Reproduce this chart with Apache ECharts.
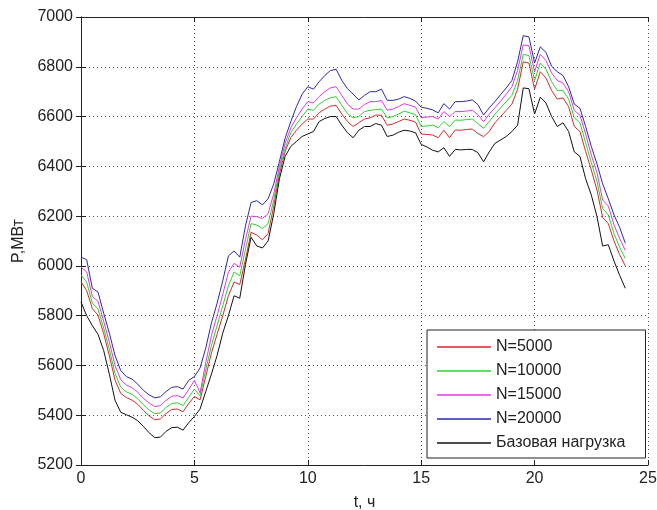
<!DOCTYPE html>
<html>
<head>
<meta charset="utf-8">
<script src="https://cdn.jsdelivr.net/npm/echarts@6/dist/echarts.min.js"></script>
<style>
html,body{margin:0;padding:0;background:#fff;}
#chart{width:657px;height:510px;}
</style>
</head>
<body>
<div id="chart"></div>
<script>
var hours = [0,0.25,0.5,0.75,1,1.25,1.5,1.75,2,2.25,2.5,2.75,3,3.25,3.5,3.75,4,4.25,4.5,4.75,5,5.25,5.5,5.75,6,6.25,6.5,6.75,7,7.25,7.5,7.75,8,8.25,8.5,8.75,9,9.25,9.5,9.75,10,10.25,10.5,10.75,11,11.25,11.5,11.75,12,12.25,12.5,12.75,13,13.25,13.5,13.75,14,14.25,14.5,14.75,15,15.25,15.5,15.75,16,16.25,16.5,16.75,17,17.25,17.5,17.75,18,18.25,18.5,18.75,19,19.25,19.5,19.75,20,20.25,20.5,20.75,21,21.25,21.5,21.75,22,22.25,22.5,22.75,23,23.25,23.5,23.75,24];

var base = [5855,5800,5760,5725,5660,5565,5460,5412,5402,5392,5378,5355,5330,5310,5312,5335,5350,5352,5340,5370,5395,5425,5495,5565,5640,5730,5800,5880,5870,6005,6115,6080,6072,6100,6210,6350,6440,6480,6500,6520,6530,6540,6580,6592,6600,6600,6565,6535,6515,6545,6560,6560,6572,6565,6520,6525,6537,6545,6542,6535,6488,6478,6465,6458,6475,6440,6468,6466,6468,6468,6455,6418,6458,6492,6506,6520,6540,6565,6715,6712,6610,6678,6655,6600,6560,6575,6540,6458,6440,6350,6285,6198,6080,6085,6020,5962,5910];

var n5000 = [5936,5901,5828,5802,5728,5639,5541,5488,5471,5461,5444,5420,5398,5382,5385,5407,5423,5425,5414,5447,5475,5462,5555,5650,5725,5800,5880,5935,5925,6025,6135,6124,6105,6130,6240,6370,6460,6515,6545,6570,6590,6590,6615,6630,6642,6645,6610,6580,6560,6575,6590,6595,6606,6605,6565,6570,6580,6590,6585,6578,6530,6528,6526,6515,6545,6515,6546,6545,6548,6550,6532,6519,6540,6575,6600,6625,6650,6710,6820,6815,6710,6780,6755,6705,6670,6675,6640,6560,6540,6460,6385,6305,6195,6170,6100,6045,6000];

var n10000 = [5963,5935,5850,5827,5750,5664,5568,5513,5494,5484,5466,5442,5421,5406,5409,5431,5447,5450,5439,5472,5505,5478,5582,5680,5760,5840,5920,5975,5960,6065,6170,6164,6150,6170,6265,6385,6472,6535,6570,6600,6630,6625,6650,6665,6675,6680,6645,6612,6595,6600,6620,6625,6628,6630,6595,6600,6610,6622,6615,6608,6560,6562,6566,6555,6580,6560,6586,6585,6588,6590,6572,6553,6580,6610,6635,6660,6685,6745,6850,6845,6745,6815,6790,6740,6705,6705,6670,6595,6575,6495,6415,6340,6230,6205,6130,6075,6030];

var n15000 = [5995,5976,5877,5858,5777,5694,5600,5543,5521,5511,5493,5468,5449,5435,5438,5460,5476,5479,5469,5503,5540,5490,5610,5720,5800,5885,5975,6010,5995,6105,6200,6198,6190,6210,6290,6400,6492,6555,6595,6630,6660,6655,6680,6700,6715,6720,6685,6650,6630,6630,6648,6660,6660,6665,6625,6630,6640,6652,6645,6638,6595,6598,6600,6590,6620,6600,6620,6620,6622,6626,6608,6579,6610,6635,6662,6690,6720,6785,6888,6885,6780,6850,6825,6775,6745,6735,6700,6625,6605,6530,6445,6375,6265,6240,6165,6110,6062];

var n20000 = [6035,6025,5910,5895,5810,5730,5640,5580,5555,5545,5525,5500,5482,5470,5474,5495,5512,5515,5505,5540,5555,5590,5670,5770,5850,5940,6040,6060,6035,6160,6255,6262,6245,6270,6330,6420,6513,6580,6640,6690,6720,6710,6740,6765,6785,6790,6745,6712,6690,6667,6685,6700,6700,6710,6665,6665,6670,6680,6673,6662,6638,6633,6627,6615,6652,6630,6660,6660,6662,6667,6648,6606,6635,6660,6688,6715,6745,6820,6925,6920,6815,6880,6858,6802,6780,6765,6720,6650,6633,6560,6480,6410,6330,6270,6205,6155,6091];

var seriesNames = ['N=5000','N=10000','N=15000','N=20000','Базовая нагрузка'];
var seriesValues = [n5000, n10000, n15000, n20000, base];
var seriesColors = ['#d42a2a','#2ed12e','#e03ae0','#2a2aa8','#111111'];

var xTicks = {min:0, max:25, interval:5};
var yTicks = {min:5200, max:7000, interval:200};

function pairs(vals){ return hours.map(function(h,i){ return [h, vals[i]]; }); }

var font = 'Liberation Sans, Arial, sans-serif';
var series = seriesNames.map(function(name, i){
  return {
    name: name, type: 'line', data: pairs(seriesValues[i]),
    showSymbol: false, symbol: 'none', animation: false,
    lineStyle: {color: seriesColors[i], width: 1},
    itemStyle: {color: seriesColors[i]},
    xAxisIndex: 0, yAxisIndex: 0, z: 3
  };
});

var tickStyle = {show:true, inside:true, length:5, lineStyle:{color:'#222', width:1}};
var gridLine = {show:true, lineStyle:{color:'#555', width:1, type:[1,3]}};
function plain(v){ return String(v); }

var option = {
  backgroundColor: '#fff',
  animation: false,
  grid: {left:81, right:9, top:17, bottom:45, containLabel:false, outerBoundsMode:'none'},
  legend: {
    orient: 'vertical', left: 427, top: 330,
    data: seriesNames,
    icon: 'rect', itemWidth: 54, itemHeight: 1.5, itemGap: 8,
    padding: [9, 20, 7, 10],
    borderColor: '#222', borderWidth: 1, backgroundColor: '#fff',
    textStyle: {fontFamily: font, fontSize: 16, color: '#222', lineHeight: 16},
    z: 10
  },
  xAxis: [{
    type:'value', min:xTicks.min, max:xTicks.max, interval:xTicks.interval,
    name:'t, ч', nameLocation:'middle', nameGap:30,
    nameTextStyle:{fontFamily:font, fontSize:16, color:'#222'},
    axisLine:{show:true, lineStyle:{color:'#222', width:1}},
    axisTick: tickStyle,
    axisLabel:{fontFamily:font, fontSize:16, color:'#222', margin:6, formatter: plain},
    splitLine: gridLine
  },{
    type:'value', position:'top', min:xTicks.min, max:xTicks.max, interval:xTicks.interval,
    axisLine:{show:true, lineStyle:{color:'#222', width:1}},
    axisTick: tickStyle, axisLabel:{show:false}, splitLine:{show:false}
  }],
  yAxis: [{
    type:'value', min:yTicks.min, max:yTicks.max, interval:yTicks.interval,
    name:'P,МВт', nameLocation:'middle', nameGap:53,
    nameTextStyle:{fontFamily:font, fontSize:16, color:'#222'},
    axisLine:{show:true, lineStyle:{color:'#222', width:1}},
    axisTick: tickStyle,
    axisLabel:{fontFamily:font, fontSize:16, color:'#222', margin:8, formatter: plain},
    splitLine: gridLine
  },{
    type:'value', position:'right', min:yTicks.min, max:yTicks.max, interval:yTicks.interval,
    axisLine:{show:true, lineStyle:{color:'#222', width:1}},
    axisTick: tickStyle, axisLabel:{show:false}, splitLine:{show:false}
  }],
  series: series
};

var chart = echarts.init(document.getElementById('chart'), null, {renderer:'canvas'});
chart.setOption(option);
</script>
</body>
</html>
